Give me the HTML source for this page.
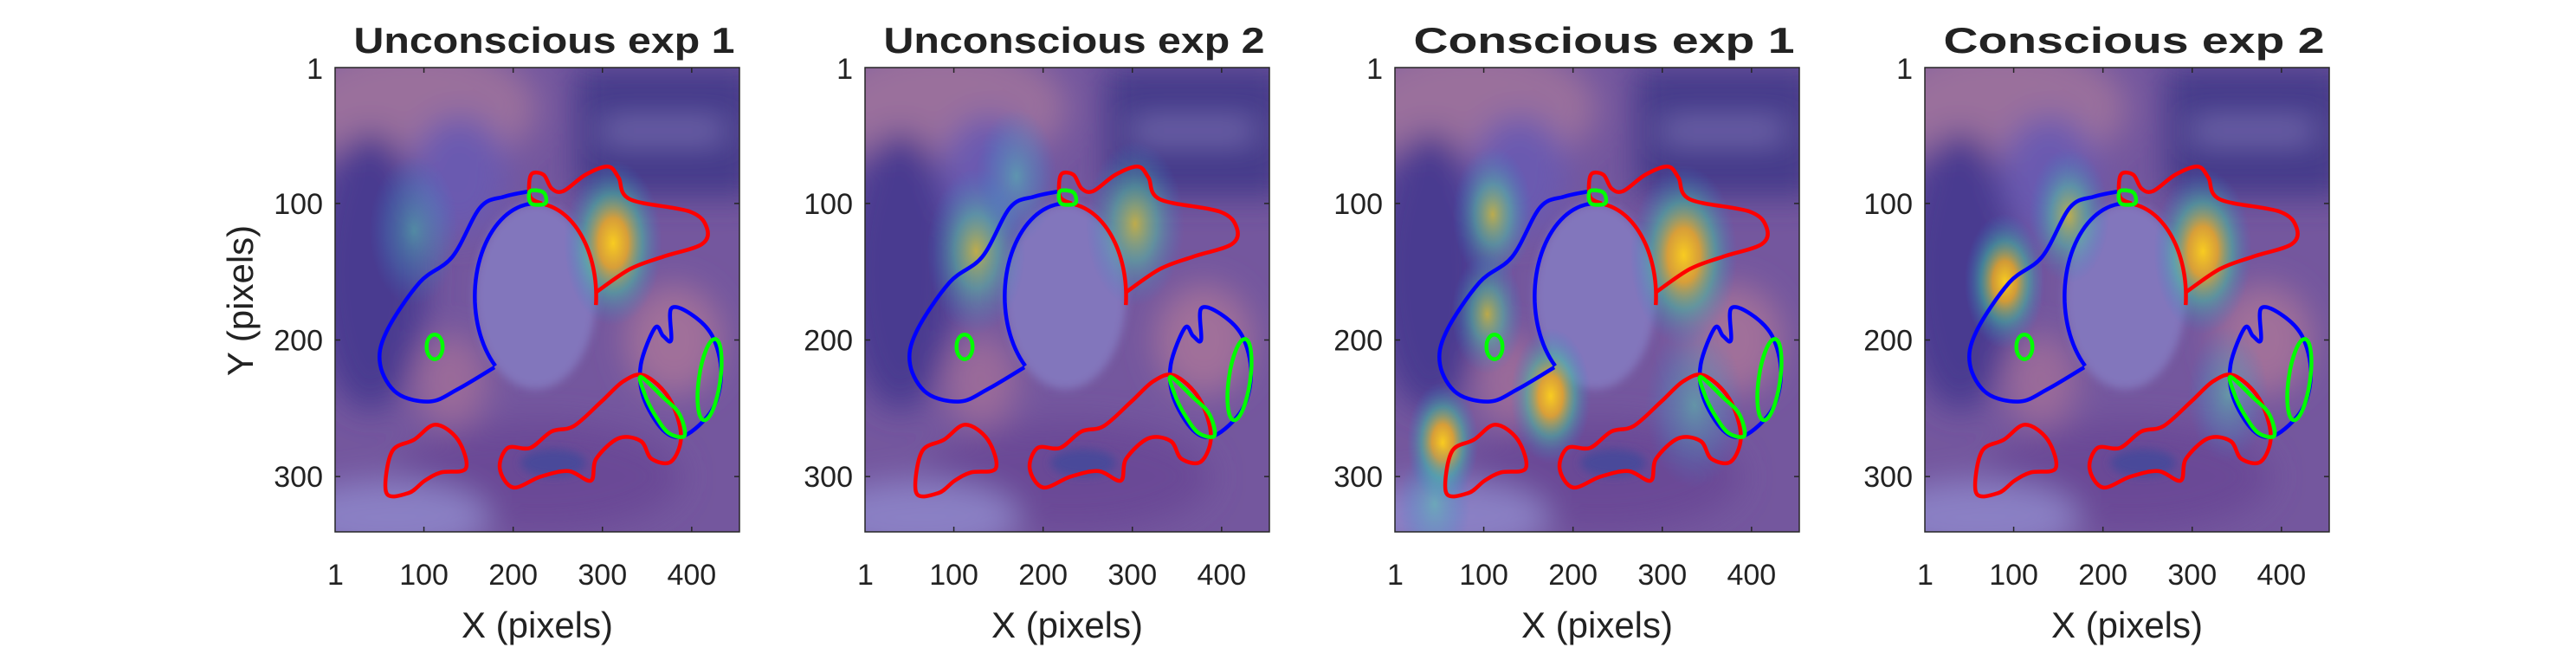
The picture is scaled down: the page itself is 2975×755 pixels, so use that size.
<!DOCTYPE html>
<html><head><meta charset="utf-8"><style>
html,body{margin:0;padding:0;background:#fff;}
svg{display:block;}
text{font-family:"Liberation Sans",sans-serif;fill:#222;}
</style></head><body>
<svg id="fig" width="2975" height="755" viewBox="0 0 2975 755" xmlns="http://www.w3.org/2000/svg">
<defs>
<filter id="blur8" x="-50%" y="-50%" width="200%" height="200%"><feGaussianBlur stdDeviation="18"/></filter>
<filter id="blur4" x="-50%" y="-50%" width="200%" height="200%"><feGaussianBlur stdDeviation="5"/></filter>
<radialGradient id="heatStrong"><stop offset="0" stop-color="#ffd21a" stop-opacity="0.95"/><stop offset="0.3" stop-color="#f0b020" stop-opacity="0.8"/><stop offset="0.6" stop-color="#40c8a0" stop-opacity="0.5"/><stop offset="1" stop-color="#3080d0" stop-opacity="0"/></radialGradient>
<radialGradient id="heatMid"><stop offset="0" stop-color="#d8c830" stop-opacity="0.75"/><stop offset="0.45" stop-color="#50c8a0" stop-opacity="0.5"/><stop offset="1" stop-color="#3080d0" stop-opacity="0"/></radialGradient>
<radialGradient id="heatWeak"><stop offset="0" stop-color="#50d0b0" stop-opacity="0.5"/><stop offset="0.6" stop-color="#40a0c8" stop-opacity="0.25"/><stop offset="1" stop-color="#3080d0" stop-opacity="0"/></radialGradient>
</defs>
</svg>
<script>
// ---- data ----
const panelTitles = ["Unconscious exp 1","Unconscious exp 2","Conscious exp 1","Conscious exp 2"];
const xTicks = [1,100,200,300,400];
const yTicks = [1,100,200,300];
const xTickLabels = ["1","100","200","300","400"];
const yTickLabels = ["1","100","200","300"];
// contours in image-pixel coordinates
const blueLeftX = [219,190,163,132,95,58,51,70,107,138,179];
const blueLeftY = [91,95,103,139,158,194,218,239,245,236,220];
const faceCircle = [225,168,68]; // cx, cy, r
const redTopX = [232,219,220,234,243,256,281,306,318,331,398,417,411,368,331,293];
const redTopY = [100,95,79,79,89,91,79,73,81,97,106,118,130,139,148,165];
const blueRightX = [377,399,423,433,423,392,368,346,343,359,368,377];
const blueRightY = [177,181,197,224,251,270,266,242,218,191,197,200];
const redLowX = [347,375,388,377,355,343,318,293,287,262,231,200,185,194,219,243,268,299,324];
const redLowY = [226,243,270,289,287,274,272,287,303,296,300,308,294,279,279,267,263,245,230];
const redSmallX = [58,64,89,113,138,147,119,101,83];
const redSmallY = [312,282,273,262,273,294,297,303,312];
const greenSqX = [219,234,236,220];
const greenSqY = [91,92,100,100];
const greenEarX = [112], greenEarY = [205];
const greenHandX = [343,368,386,392,374,358,347];
const greenHandY = [227,242,254,270,268,254,239];
const greenBookX = [420], greenBookY = [229];
// heat blobs per panel: x, y, radius, level(0 weak,1 mid,2 strong)
const blobX = [[312,89],[303,125,170],[324,110,104,175,54,336,45],[312,162,90,340]];
const blobY = [[129,120],[115,135,80],[138,108,181,241,275,248,320],[135,109,157,240]];
const blobR = [[55,50],[55,55,45],[60,45,40,45,40,55,40],[55,45,45,45]];
const blobL = [[2,0],[1,1,0],[2,1,1,2,2,0,0],[2,1,2,0]];

// ---- layout ----
const NS="http://www.w3.org/2000/svg";
const svg=document.getElementById('fig');
const panelLeft=[387,999,1611,2223];
const PW=467, PH=536, PT=78;
const XMIN=0.5, XMAX=453.5, YMIN=0.5, YMAX=340.5;
function mk(tag,attrs,parent){const e=document.createElementNS(NS,tag);for(const k in attrs)e.setAttribute(k,attrs[k]);(parent||svg).appendChild(e);return e;}

panelTitles.forEach((title,p)=>{
  const L=panelLeft[p];
  const sx=x=>L+(x-XMIN)/(XMAX-XMIN)*PW;
  const sy=y=>PT+(y-YMIN)/(YMAX-YMIN)*PH;
  const g=mk('g',{});
  
  
  const cp=mk('clipPath',{id:'clip'+p},svg.querySelector('defs'));
  mk('rect',{x:L,y:PT,width:PW,height:PH},cp);
  const img=mk('g',{'clip-path':'url(#clip'+p+')'},g);
  
  
  // background photo approximation
  mk('rect',{x:L,y:PT,width:PW,height:PH,fill:'#74579e'},img);
  const bg=mk('g',{filter:'url(#blur8)'},img);
  mk('ellipse',{cx:sx(90),cy:sy(30),rx:PW*0.3,ry:PH*0.14,fill:'#9a6f9c'},bg);
  mk('rect',{x:sx(270),y:sy(0),width:PW*0.45,height:PH*0.28,fill:'#443a8a'},bg);
  mk('rect',{x:sx(300),y:sy(40),width:PW*0.3,height:PH*0.04,fill:'#7a70b4'},bg);
  mk('ellipse',{cx:sx(40),cy:sy(150),rx:PW*0.14,ry:PH*0.3,fill:'#4a3a90'},bg);
  mk('ellipse',{cx:sx(140),cy:sy(80),rx:PW*0.12,ry:PH*0.13,fill:'#6a5ab0'},bg);
  mk('ellipse',{cx:sx(380),cy:sy(200),rx:PW*0.12,ry:PH*0.12,fill:'#a0709a'},bg);
  mk('ellipse',{cx:sx(230),cy:sy(300),rx:PW*0.35,ry:PH*0.12,fill:'#6a4a96'},bg);
  mk('ellipse',{cx:sx(60),cy:sy(330),rx:PW*0.25,ry:PH*0.08,fill:'#8a80c4'},bg);
  mk('ellipse',{cx:sx(130),cy:sy(230),rx:PW*0.09,ry:PH*0.1,fill:'#9a6a9a'},bg);
  mk('ellipse',{cx:sx(faceCircle[0]),cy:sy(faceCircle[1]),rx:(faceCircle[2])/(XMAX-XMIN)*PW,ry:(faceCircle[2])/(YMAX-YMIN)*PH,fill:'#8276bc',filter:'url(#blur4)'},img);
  mk('ellipse',{cx:sx(245),cy:sy(290),rx:38,ry:16,fill:'#4a4a9a',filter:'url(#blur4)'},img);
  // heat blobs
  const gradIds=['heatWeak','heatMid','heatStrong'];
  blobX[p].forEach((bx,i)=>{
    const e=mk('ellipse',{cx:sx(bx),cy:sy(blobY[p][i]),rx:blobR[p][i]/(XMAX-XMIN)*PW,ry:blobR[p][i]/(YMAX-YMIN)*PH*1.1,fill:'url(#'+gradIds[blobL[p][i]]+')'},img);
    
    
  });
  // contours
  function poly(xs,ys,color,name){
    const pts=xs.map((x,i)=>[sx(x),sy(ys[i])]);
    let d='M'+pts[0][0]+','+pts[0][1];
    const n=pts.length;
    for(let i=0;i<n;i++){
      const p0=pts[(i-1+n)%n],p1=pts[i],p2=pts[(i+1)%n],p3=pts[(i+2)%n];
      d+=' C'+(p1[0]+(p2[0]-p0[0])/6)+','+(p1[1]+(p2[1]-p0[1])/6)+' '+(p2[0]-(p3[0]-p1[0])/6)+','+(p2[1]-(p3[1]-p1[1])/6)+' '+p2[0]+','+p2[1];
    }
    const e=mk('path',{d:d+'Z',fill:'none',stroke:color,'stroke-width':4.5},img);
    
    
  }
  function circleArc(a0,a1,color,name){
    const [cx,cy,r]=faceCircle;let d='';
    for(let k=0;k<=40;k++){const a=a0+(a1-a0)*k/40;d+=(k?'L':'M')+sx(cx+r*Math.cos(a))+','+sy(cy+r*Math.sin(a));}
    const e=mk('path',{d:d,fill:'none',stroke:color,'stroke-width':4.5},img);
    
    
  }
  function openPath(xs,ys,color,name){
    const pts=xs.map((x,i)=>[sx(x),sy(ys[i])]);
    let d='M'+pts[0][0]+','+pts[0][1];
    const n=pts.length;
    for(let i=0;i<n-1;i++){
      const p0=pts[Math.max(i-1,0)],p1=pts[i],p2=pts[i+1],p3=pts[Math.min(i+2,n-1)];
      d+=' C'+(p1[0]+(p2[0]-p0[0])/6)+','+(p1[1]+(p2[1]-p0[1])/6)+' '+(p2[0]-(p3[0]-p1[0])/6)+','+(p2[1]-(p3[1]-p1[1])/6)+' '+p2[0]+','+p2[1];
    }
    const e=mk('path',{d:d,fill:'none',stroke:color,'stroke-width':4.5,'stroke-linejoin':'round'},img);
    
    
  }
  openPath(blueLeftX,blueLeftY,'#0000ff','blue-contour-head');
  circleArc(Math.PI*0.73,Math.PI*1.5,'#0000ff','blue-contour-face');
  openPath(redTopX,redTopY,'#ff0000','red-contour-top');
  circleArc(-Math.PI*0.45,Math.PI*0.03,'#ff0000','red-contour-face');
  poly(blueRightX,blueRightY,'#0000ff','blue-contour-book');
  poly(redLowX,redLowY,'#ff0000','red-contour-shirt');
  poly(redSmallX,redSmallY,'#ff0000','red-contour-hand');
  poly(greenSqX,greenSqY,'#00ff00','green-contour-square');
  const ge=mk('ellipse',{cx:sx(greenEarX[0]),cy:sy(greenEarY[0]),rx:9/(XMAX-XMIN)*PW,ry:9/(YMAX-YMIN)*PH,fill:'none',stroke:'#00ff00','stroke-width':4.5},img);
  
  
  poly(greenHandX,greenHandY,'#00ff00','green-contour-fingers');
  const gb=mk('ellipse',{cx:sx(greenBookX[0]),cy:sy(greenBookY[0]),rx:12/(XMAX-XMIN)*PW,ry:30/(YMAX-YMIN)*PH,fill:'none',stroke:'#00ff00','stroke-width':4.5,transform:'rotate(8 '+sx(greenBookX[0])+' '+sy(greenBookY[0])+')'},img);
  
  
  // frame
  const fr=mk('rect',{x:L,y:PT,width:PW,height:PH,fill:'none',stroke:'#262626','stroke-width':1.5},g);
  
  
  // ticks
  xTicks.forEach((t,i)=>{
    const X=sx(t);
    if(i>0){mk('line',{x1:X,y1:PT,x2:X,y2:PT+6,stroke:'#262626','stroke-width':1.5},g);mk('line',{x1:X,y1:PT+PH,x2:X,y2:PT+PH-6,stroke:'#262626','stroke-width':1.5},g);}
    const tl=mk('text',{x:X,y:675,'text-anchor':'middle','font-size':34},g);
    tl.textContent=xTickLabels[i];
    
    
  });
  yTicks.forEach((t,i)=>{
    const Y=sy(t);
    if(i>0){mk('line',{x1:L,y1:Y,x2:L+6,y2:Y,stroke:'#262626','stroke-width':1.5},g);mk('line',{x1:L+PW,y1:Y,x2:L+PW-6,y2:Y,stroke:'#262626','stroke-width':1.5},g);}
    const tl=mk('text',{x:L-14,y:Y+12,'text-anchor':'end','font-size':34},g);
    tl.textContent=yTickLabels[i];
    
    
  });
  const tt=mk('text',{x:L+PW/2+8,y:61,'text-anchor':'middle','font-size':42,'font-weight':'bold',textLength:440,lengthAdjust:'spacingAndGlyphs',fill:'#000'},g);
  tt.textContent=title;
  
  
  const xl=mk('text',{x:L+PW/2,y:736,'text-anchor':'middle','font-size':42},g);
  xl.textContent='X (pixels)';
  
  
  if(p===0){
    const yl=mk('text',{x:0,y:0,'text-anchor':'middle','font-size':42,transform:'translate(292 347) rotate(-90)'},g);
    yl.textContent='Y (pixels)';
    
    
  }
});
</script>
</body></html>
